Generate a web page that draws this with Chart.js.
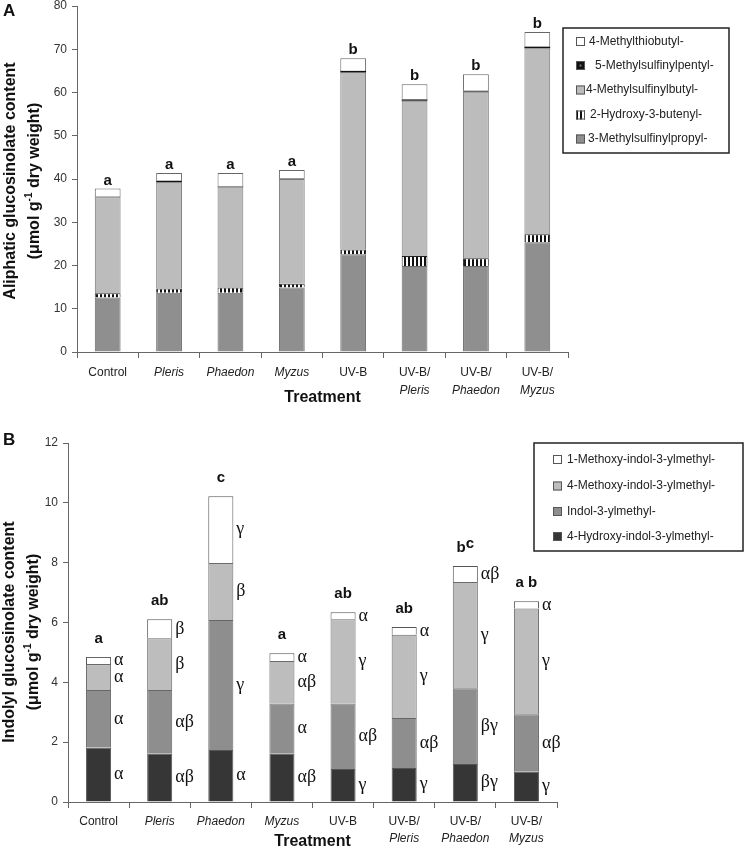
<!DOCTYPE html>
<html>
<head>
<meta charset="utf-8">
<script src="https://cdn.jsdelivr.net/npm/chart.js@4.4.1/dist/chart.umd.min.js"></script>
<style>
  html, body { margin: 0; padding: 0; background: #fff; }
  #wrap { position: relative; width: 745px; height: 848px; overflow: hidden; }
  .panel { position: absolute; left: 0; width: 745px; }
  #panelA { top: 0; height: 415px; }
  #panelB { top: 420px; height: 428px; }
</style>
</head>
<body>
<div id="wrap">
  <div class="panel" id="panelA"><canvas id="chartA"></canvas></div>
  <div class="panel" id="panelB"><canvas id="chartB"></canvas></div>
</div>
<script>
// ---- data ----
const treatments = ['Control', 'Pleris', 'Phaedon', 'Myzus', 'UV-B', 'UV-B/Pleris', 'UV-B/Phaedon', 'UV-B/Myzus'];
const insects = ['Pleris', 'Phaedon', 'Myzus'];

// A: aliphatic glucosinolates, stacked bottom -> top
const methylsulfinylpropyl = [12.6, 13.7, 13.7, 14.9, 22.6, 19.9, 19.9, 25.4];
const hydroxybutenyl       = [1.0, 1.0, 1.2, 0.9, 1.1, 2.3, 1.8, 1.8];
const methylsulfinylbutyl  = [22.2, 24.5, 23.3, 24.2, 40.9, 35.9, 38.5, 43.0];
const methylsulfinylpentyl = [0.1, 0.4, 0.1, 0.1, 0.4, 0.3, 0.2, 0.4];
const methylthiobutyl      = [1.9, 1.8, 3.1, 2.0, 2.9, 3.5, 3.8, 3.4];
const lettersA = ['a', 'a', 'a', 'a', 'b', 'b', 'b', 'b'];

// B: indolyl glucosinolates, stacked bottom -> top
const hydroxyIndolyl  = [1.82, 1.61, 1.74, 1.61, 1.10, 1.14, 1.27, 1.01];
const indolyl         = [1.92, 2.13, 4.34, 1.68, 2.19, 1.67, 2.53, 1.92];
const methoxy4Indolyl = [0.87, 1.73, 1.91, 1.42, 2.82, 2.78, 3.55, 3.54];
const methoxy1Indolyl = [0.24, 0.64, 2.23, 0.26, 0.23, 0.26, 0.54, 0.24];
const lettersB = ['a', 'ab', 'c', 'a', 'ab', 'ab', 'b^c', 'a b'];
const greekHydroxy  = ['α', 'αβ', 'α', 'αβ', 'γ', 'γ', 'βγ', 'γ'];
const greekIndolyl  = ['α', 'αβ', 'γ', 'α', 'αβ', 'αβ', 'βγ', 'αβ'];
const greekMethoxy4 = ['α', 'β', 'β', 'αβ', 'γ', 'γ', 'γ', 'γ'];
const greekMethoxy1 = ['α', 'β', 'γ', 'α', 'α', 'α', 'αβ', 'α'];

// ---- helpers ----
const SANS = '"Liberation Sans", Arial, sans-serif';
const SERIF = '"Liberation Serif", "Times New Roman", serif';

function makeHatch() {
    const c = document.createElement('canvas');
    c.width = 4; c.height = 4;
    const g = c.getContext('2d');
    g.fillStyle = '#fff'; g.fillRect(0, 0, 4, 4);
    g.fillStyle = '#111'; g.fillRect(0, 0, 2, 4);
    return g.createPattern(c, 'repeat');
}
const hatch = makeHatch();

const segBorder = { top: 1, left: 1, right: 1, bottom: 0 };

function makeScales(max, step, yWidth, xHeight) {
    return {
        x: {
            stacked: true,
            grid: { display: true, drawOnChartArea: false, offset: true, tickLength: 6, color: '#666', tickColor: '#666' },
            border: { color: '#666', width: 1 },
            ticks: { display: false },
            afterFit: s => { s.height = xHeight; s.paddingLeft = 0; s.paddingRight = 0; }
        },
        y: {
            stacked: true, min: 0, max: max,
            ticks: { stepSize: step, padding: 5, color: '#333', font: { family: SANS, size: 12 } },
            grid: { drawOnChartArea: false, tickLength: 5, color: '#666', tickColor: '#666' },
            border: { color: '#666', width: 1 },
            afterFit: s => { s.width = yWidth; s.paddingTop = 0; s.paddingBottom = 0; }
        }
    };
}

function drawXLabels(chart, y1, y2, titleY) {
    const ctx = chart.ctx, xs = chart.scales.x;
    ctx.save();
    ctx.fillStyle = '#222';
    ctx.textAlign = 'center';
    ctx.textBaseline = 'middle';
    treatments.forEach((t, i) => {
        const x = xs.getPixelForValue(i);
        const parts = t.split('/');
        if (parts.length > 1) {
            ctx.font = '12px ' + SANS;
            ctx.fillText(parts[0] + '/', x, y1);
            ctx.font = 'italic 12px ' + SANS;
            ctx.fillText(parts[1], x, y2);
        } else {
            ctx.font = (insects.includes(t) ? 'italic ' : '') + '12px ' + SANS;
            ctx.fillText(t, x, y1);
        }
    });
    ctx.font = 'bold 16px ' + SANS;
    ctx.fillStyle = '#111';
    ctx.fillText('Treatment', (xs.left + xs.right) / 2, titleY);
    ctx.restore();
}

function drawYTitle(ctx, title, cx1, cx2, cy) {
    ctx.save();
    ctx.fillStyle = '#111';
    ctx.textBaseline = 'middle';
    ctx.font = 'bold 16px ' + SANS;
    ctx.translate(cx1, cy);
    ctx.rotate(-Math.PI / 2);
    ctx.textAlign = 'center';
    ctx.fillText(title, 0, 0);
    ctx.restore();

    // second line with superscript
    ctx.save();
    ctx.fillStyle = '#111';
    ctx.textBaseline = 'middle';
    ctx.translate(cx2, cy);
    ctx.rotate(-Math.PI / 2);
    ctx.textAlign = 'left';
    const a = '(μmol g', sup = '-1', b = ' dry weight)';
    ctx.font = 'bold 16px ' + SANS;
    const wa = ctx.measureText(a).width, wb = ctx.measureText(b).width;
    ctx.font = 'bold 10px ' + SANS;
    const ws = ctx.measureText(sup).width;
    let x = -(wa + ws + wb) / 2;
    ctx.font = 'bold 16px ' + SANS;
    ctx.fillText(a, x, 0); x += wa;
    ctx.font = 'bold 10px ' + SANS;
    ctx.fillText(sup, x, -6); x += ws;
    ctx.font = 'bold 16px ' + SANS;
    ctx.fillText(b, x, 0);
    ctx.restore();
}

function drawTopLetters(chart, letters, gap) {
    const ctx = chart.ctx;
    const meta = chart.getDatasetMeta(chart.data.datasets.length - 1);
    ctx.save();
    ctx.font = 'bold 15px ' + SANS;
    ctx.fillStyle = '#111';
    ctx.textAlign = 'left';
    ctx.textBaseline = 'alphabetic';
    meta.data.forEach((bar, i) => {
        const [base, sup] = letters[i].split('^');
        const wb = ctx.measureText(base).width;
        const ws = sup ? ctx.measureText(sup).width : 0;
        const x0 = bar.x - (wb + ws) / 2;
        const y = bar.y - gap;
        ctx.fillText(base, x0, y);
        if (sup) ctx.fillText(sup, x0 + wb, y - 4);
    });
    ctx.restore();
}

function drawGreek(chart, greekSets) {
    const ctx = chart.ctx;
    ctx.save();
    ctx.font = '18px ' + SERIF;
    ctx.fillStyle = '#111';
    ctx.textAlign = 'left';
    ctx.textBaseline = 'middle';
    greekSets.forEach((labels, di) => {
        chart.getDatasetMeta(di).data.forEach((bar, i) => {
            ctx.fillText(labels[i], bar.x + bar.width / 2 + 3, (bar.y + bar.base) / 2);
        });
    });
    ctx.restore();
}

function drawLegend(chart, box, items) {
    const ctx = chart.ctx;
    const ds = chart.data.datasets.slice().reverse();
    ctx.save();
    ctx.lineWidth = 1.5;
    ctx.strokeStyle = '#222';
    ctx.strokeRect(box.x, box.y, box.w, box.h);
    ctx.font = '12px ' + SANS;
    ctx.textBaseline = 'middle';
    ctx.textAlign = 'left';
    ds.forEach((d, i) => {
        const it = items[i];
        ctx.fillStyle = d.backgroundColor;
        ctx.fillRect(box.sx, it.y - 4.5, 9, 9);
        ctx.lineWidth = 1;
        ctx.strokeStyle = '#555';
        ctx.strokeRect(box.sx + 0.5, it.y - 4, 8, 8);
        if (d.dot) {
            ctx.fillStyle = '#777';
            ctx.fillRect(box.sx + 3.5, it.y - 1, 2, 2);
        }
        ctx.fillStyle = '#222';
        ctx.fillText(d.label, box.sx + it.indent, it.y);
    });
    ctx.restore();
}

function panelLetter(ctx, letter, x, y) {
    ctx.save();
    ctx.font = 'bold 17px ' + SANS;
    ctx.fillStyle = '#111';
    ctx.textAlign = 'left';
    ctx.textBaseline = 'alphabetic';
    ctx.fillText(letter, x, y);
    ctx.restore();
}

// ---- chart A ----
const decorA = {
    id: 'decorA',
    afterDraw(chart) {
        const ctx = chart.ctx;
        drawXLabels(chart, 373, 391, 398);
        drawYTitle(ctx, 'Aliphatic glucosinolate content', 11, 35, 181);
        drawTopLetters(chart, lettersA, 4);
        drawLegend(chart, { x: 563, y: 28, w: 166, h: 125, sx: 576 }, [
            { y: 41.5, indent: 13 }, { y: 65.5, indent: 19 }, { y: 90, indent: 10 },
            { y: 115, indent: 14 }, { y: 139, indent: 12 }
        ]);
        panelLetter(ctx, 'A', 3, 16);
    }
};

new Chart(document.getElementById('chartA'), {
    type: 'bar',
    data: {
        labels: treatments,
        datasets: [
            { label: '3-Methylsulfinylpropyl-', data: methylsulfinylpropyl, backgroundColor: '#8f8f8f', borderColor: '#6a6a6a', borderWidth: segBorder },
            { label: '2-Hydroxy-3-butenyl-', data: hydroxybutenyl, backgroundColor: hatch, borderColor: '#222', borderWidth: 1 },
            { label: '4-Methylsulfinylbutyl-', data: methylsulfinylbutyl, backgroundColor: '#bcbcbc', borderColor: '#777', borderWidth: segBorder },
            { label: '5-Methylsulfinylpentyl-', data: methylsulfinylpentyl, backgroundColor: '#111', borderWidth: 0, dot: true },
            { label: '4-Methylthiobutyl-', data: methylthiobutyl, backgroundColor: '#fff', borderColor: '#666', borderWidth: segBorder }
        ]
    },
    options: {
        responsive: true,
        maintainAspectRatio: false,
        animation: false,
        datasets: { bar: { categoryPercentage: 1, barPercentage: 0.42 } },
        layout: { padding: { left: 0, right: 177, top: 6, bottom: 0 } },
        scales: makeScales(80, 10, 77, 63),
        plugins: { legend: { display: false }, tooltip: { enabled: false } }
    },
    plugins: [decorA]
});

// ---- chart B ----
const decorB = {
    id: 'decorB',
    afterDraw(chart) {
        const ctx = chart.ctx;
        drawXLabels(chart, 402, 419, 422);
        drawYTitle(ctx, 'Indolyl glucosinolate content', 10, 34, 212);
        drawGreek(chart, [greekHydroxy, greekIndolyl, greekMethoxy4, greekMethoxy1]);
        drawTopLetters(chart, lettersB, 14);
        drawLegend(chart, { x: 534, y: 23, w: 209, h: 108, sx: 553 }, [
            { y: 39.5, indent: 14 }, { y: 66, indent: 14 }, { y: 91.5, indent: 14 }, { y: 116.5, indent: 14 }
        ]);
        panelLetter(ctx, 'B', 3, 25);
    }
};

new Chart(document.getElementById('chartB'), {
    type: 'bar',
    data: {
        labels: treatments,
        datasets: [
            { label: '4-Hydroxy-indol-3-ylmethyl-', data: hydroxyIndolyl, backgroundColor: '#363636', borderColor: '#555', borderWidth: segBorder },
            { label: 'Indol-3-ylmethyl-', data: indolyl, backgroundColor: '#8e8e8e', borderColor: '#666', borderWidth: segBorder },
            { label: '4-Methoxy-indol-3-ylmethyl-', data: methoxy4Indolyl, backgroundColor: '#bdbdbd', borderColor: '#6a6a6a', borderWidth: segBorder },
            { label: '1-Methoxy-indol-3-ylmethyl-', data: methoxy1Indolyl, backgroundColor: '#fff', borderColor: '#555', borderWidth: segBorder }
        ]
    },
    options: {
        responsive: true,
        maintainAspectRatio: false,
        animation: false,
        datasets: { bar: { categoryPercentage: 1, barPercentage: 0.41 } },
        layout: { padding: { left: 0, right: 188, top: 23, bottom: 0 } },
        scales: makeScales(12, 2, 68, 46),
        plugins: { legend: { display: false }, tooltip: { enabled: false } }
    },
    plugins: [decorB]
});
</script>
</body>
</html>
